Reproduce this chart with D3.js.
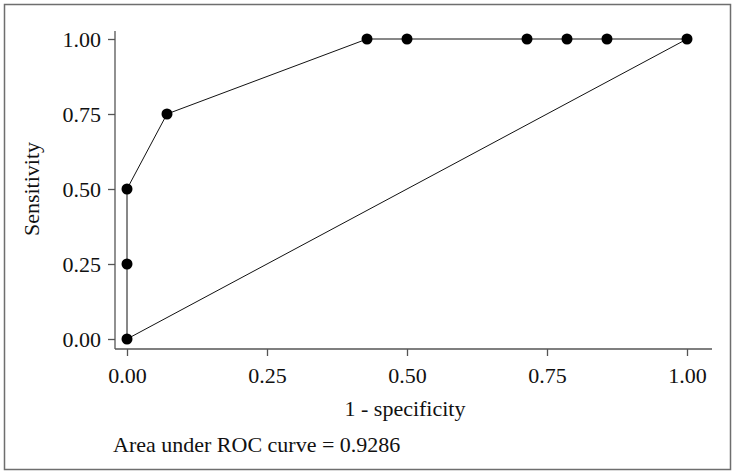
<!DOCTYPE html>
<html><head><meta charset="utf-8">
<script src="https://cdn.jsdelivr.net/npm/d3@7"></script>
<style>body{margin:0;background:#fff}svg{display:block}</style>
</head><body>
<script>
const fpr = [0, 0, 0, 0.0714, 0.4286, 0.5, 0.7143, 0.7857, 0.8571, 1];
const tpr = [0, 0.25, 0.5, 0.75, 1, 1, 1, 1, 1, 1];
const refX = [0, 1];
const refY = [0, 1];
const tickVals = [0, 0.25, 0.5, 0.75, 1];
const xTitle = "1 - specificity";
const yTitle = "Sensitivity";
const note = "Area under ROC curve = 0.9286";

const W = 736, H = 475;
const svg = d3.select("body").append("svg").attr("width", W).attr("height", H);
const font = "'Liberation Serif', 'DejaVu Serif', serif";
const fs = "22px";

svg.append("rect").attr("x", 4.5).attr("y", 4.5).attr("width", 726).attr("height", 465)
  .attr("fill", "none").attr("stroke", "#6e6e6e").attr("stroke-width", 1.5);

const x = d3.scaleLinear().domain([0, 1]).range([127, 687]);
const y = d3.scaleLinear().domain([0, 1]).range([339, 39]);

const axisColor = "#555";
const yAxis = svg.append("g").attr("transform", "translate(115,0)")
  .call(d3.axisLeft(y).tickValues(tickVals).tickFormat(d3.format(".2f")).tickSize(7).tickSizeOuter(0).tickPadding(7));
yAxis.select(".domain").attr("d", "M0,31V349");
const xAxis = svg.append("g").attr("transform", "translate(0,349)")
  .call(d3.axisBottom(x).tickValues(tickVals).tickFormat(d3.format(".2f")).tickSize(7).tickSizeOuter(0).tickPadding(11));
xAxis.select(".domain").attr("d", "M115,0H712");
[xAxis, yAxis].forEach(g => {
  g.selectAll(".domain").attr("stroke", axisColor).attr("stroke-width", 1.3);
  g.selectAll(".tick line").attr("stroke", axisColor).attr("stroke-width", 1.3);
  g.selectAll(".tick text").attr("fill", "#111").style("font-family", font).style("font-size", fs);
});

svg.append("line").attr("x1", x(refX[0])).attr("y1", y(refY[0])).attr("x2", x(refX[1])).attr("y2", y(refY[1]))
  .attr("stroke", "#111").attr("stroke-width", 1);

const pts = fpr.map((f, i) => [f, tpr[i]]);
svg.append("path").attr("d", d3.line().x(d => x(d[0])).y(d => y(d[1]))(pts))
  .attr("fill", "none").attr("stroke", "#111").attr("stroke-width", 1);
svg.selectAll("circle.pt").data(pts).join("circle").attr("class", "pt")
  .attr("cx", d => x(d[0])).attr("cy", d => y(d[1])).attr("r", 5.5).attr("fill", "#000");

svg.append("text").attr("x", 405).attr("y", 416).attr("text-anchor", "middle")
  .style("font-family", font).style("font-size", fs).attr("fill", "#111").text(xTitle);
svg.append("text").attr("transform", "translate(39,189) rotate(-90)").attr("text-anchor", "middle")
  .style("font-family", font).style("font-size", fs).attr("fill", "#111").text(yTitle);
svg.append("text").attr("x", 113).attr("y", 452)
  .style("font-family", font).style("font-size", fs).attr("fill", "#111").text(note);
</script>
</body></html>
